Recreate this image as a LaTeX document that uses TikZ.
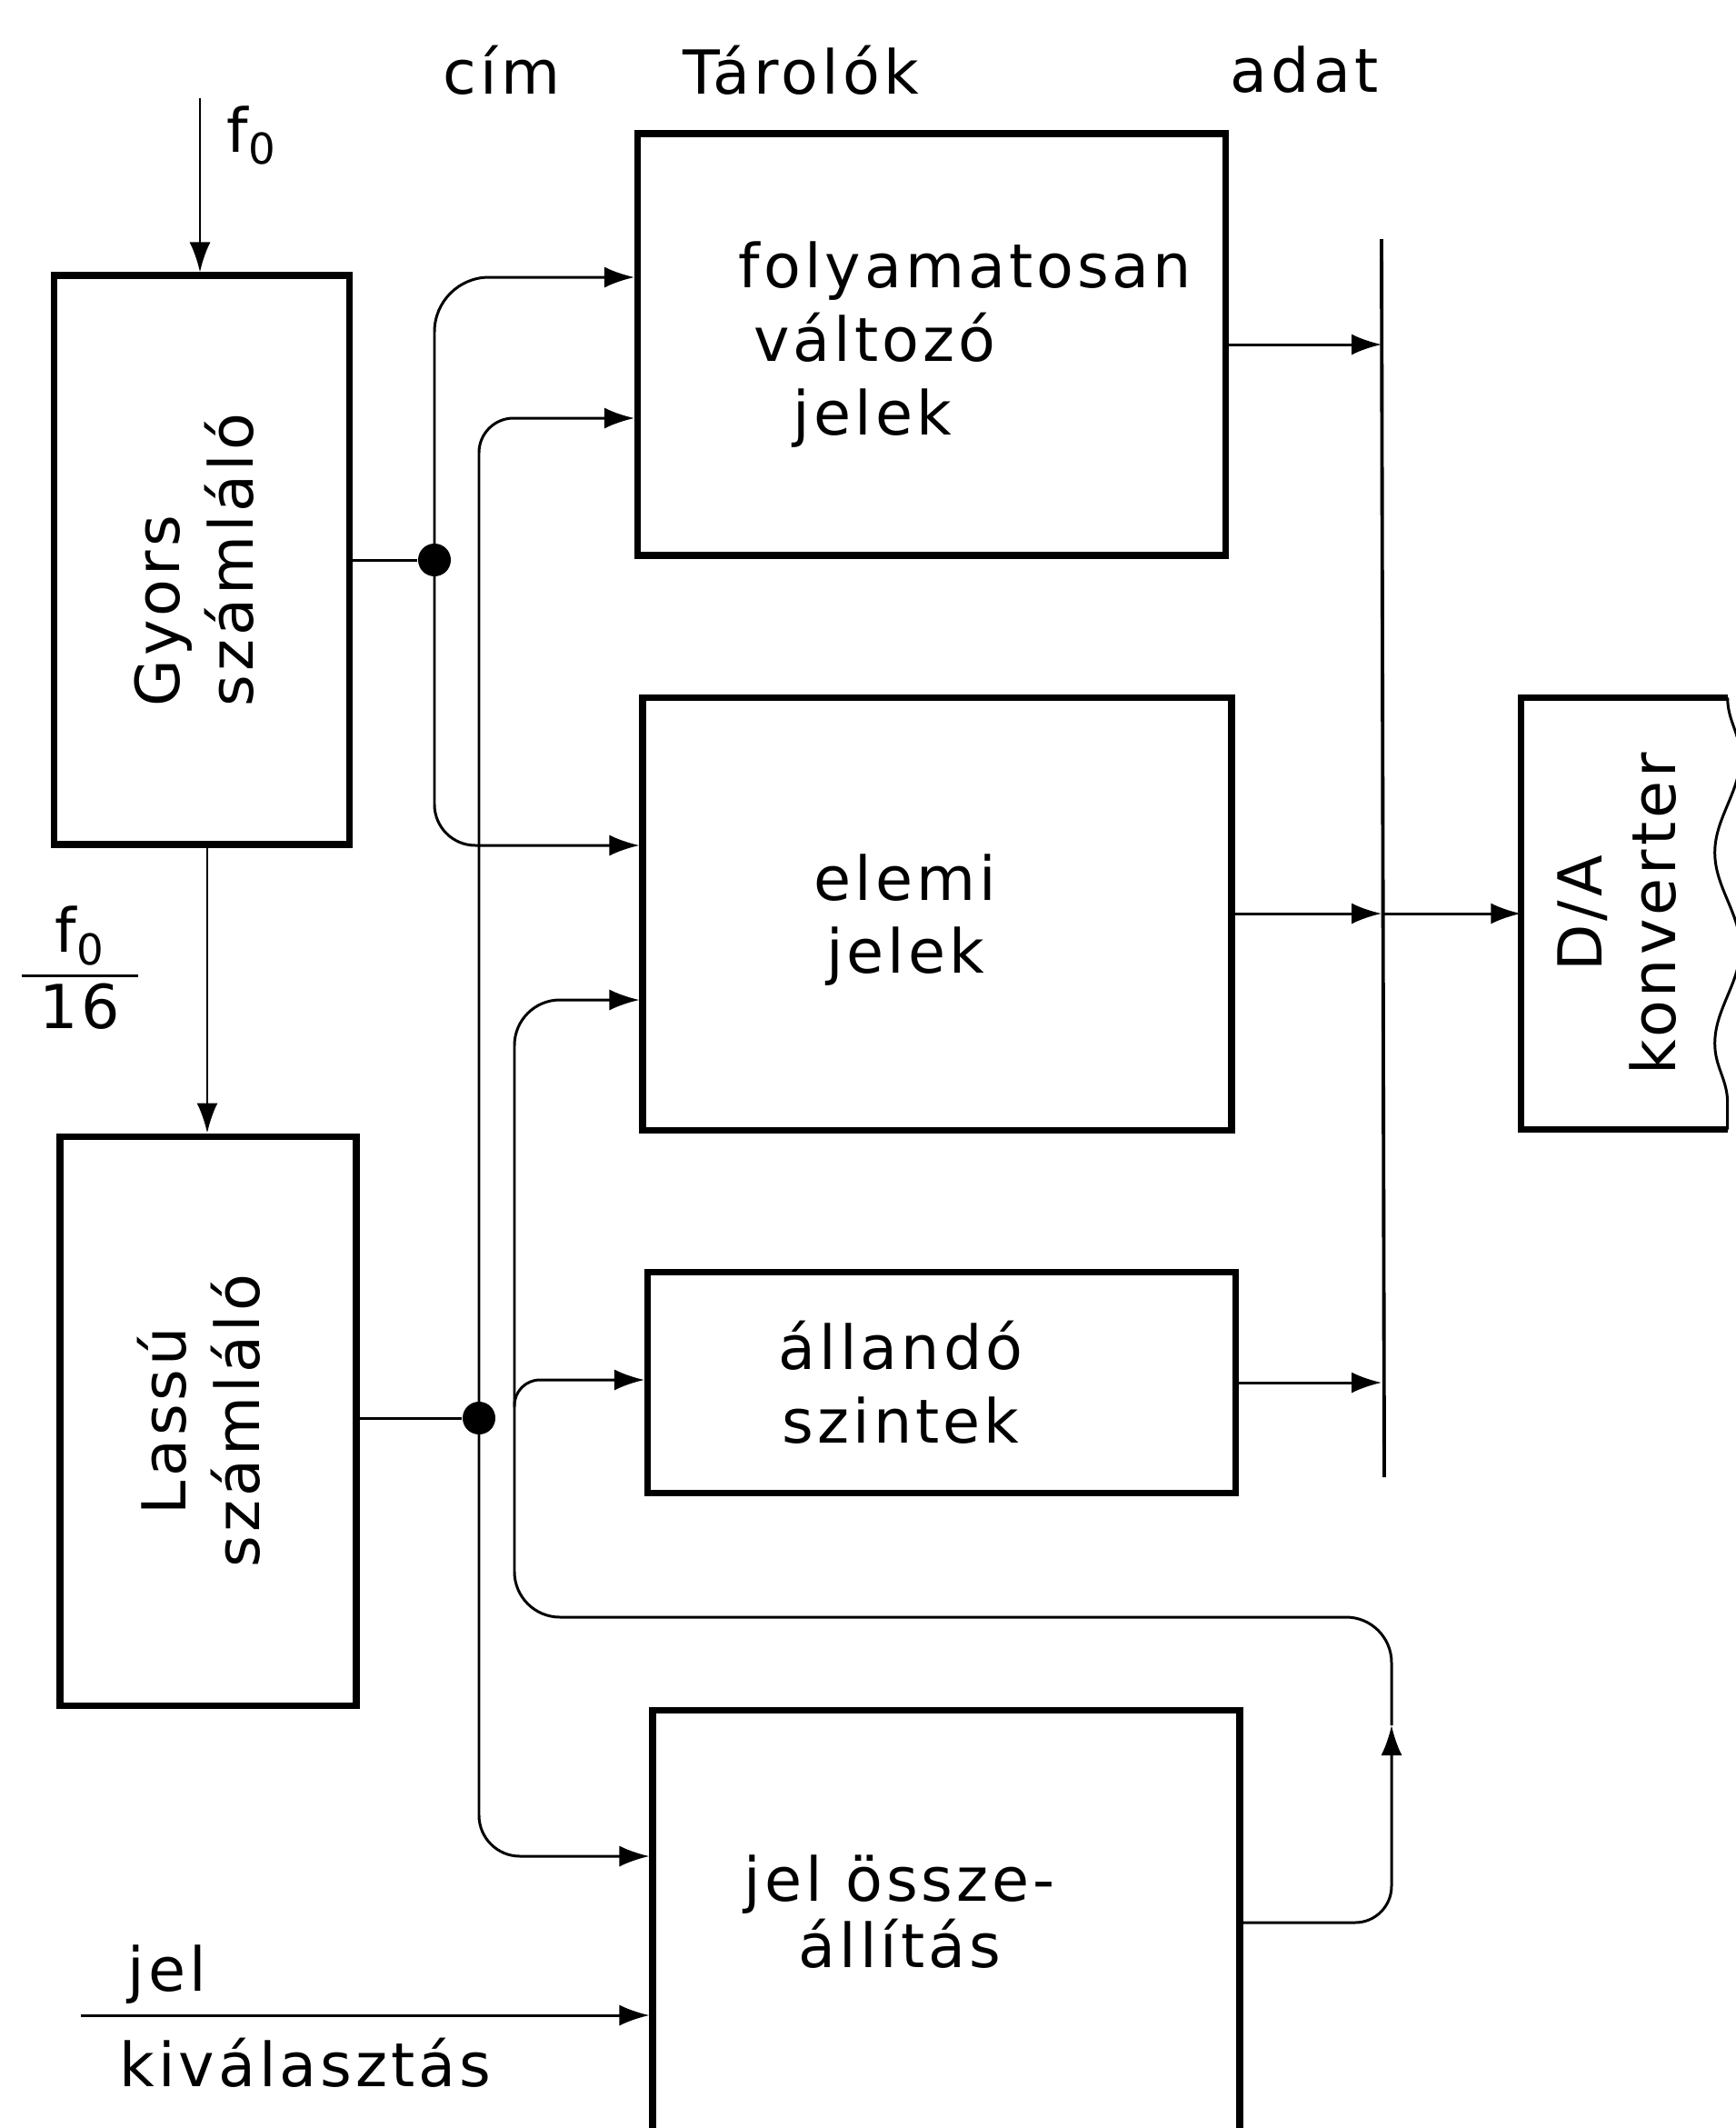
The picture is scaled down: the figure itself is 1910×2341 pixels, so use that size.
\documentclass[tikz,border=0pt]{standalone}
\usepackage{fontspec}
\setmainfont{DejaVu Sans}[LetterSpace=6]
\usepackage{graphicx}
\usepackage{tikz}
\usetikzlibrary{positioning,arrows.meta,decorations.pathmorphing,calc}
\setlength{\arrayrulewidth}{0.85pt}
\tikzset{
  blk/.style={rectangle,draw,line width=2pt,align=center,inner sep=0pt},
  txt/.style={align=center,inner sep=0pt},
  ar/.style={-{Latex[length=3.3mm,width=2.3mm]},line width=0.85pt},
  ln/.style={line width=0.85pt},
  bus/.style={line width=1.1pt},
  dot/.style={circle,fill,inner sep=0pt,minimum size=3.6mm},
  lbl/.style={inner sep=0pt},
}
\newcommand{\fnull}{f\textsubscript{0}}

\begin{document}
\begin{tikzpicture}[x=0.1mm,y=-0.1mm,font=\fontsize{19}{23}\selectfont]
  \useasboundingbox (0,0) rectangle (1910,2341);
  \clip (0,0) rectangle (1910,2341);
  % counters
  \node[blk,minimum width=32.5mm,minimum height=62.6mm] (gyors) at (222,616)
    {\rotatebox{90}{\begin{tabular}{@{}l@{}}Gyors\\számláló\end{tabular}}};
  \node[blk,minimum width=32.6mm,minimum height=62.6mm] (lassu) at (229,1563)
    {\rotatebox{90}{\begin{tabular}{@{}c@{}}Lassú\\számláló\end{tabular}}};
  % stores
  \node[blk,minimum width=64.7mm,minimum height=46.4mm] (folyam) at (1025,379) {};
  \node[txt,align=left,anchor=west] (folyamtxt) at (812,379)
    {folyamatosan\\\hspace{0.25em}változó\\\hspace{0.9em}jelek};
  \node[blk,minimum width=64.8mm,minimum height=47.6mm] (elemi) at (1031,1005) {};
  \node[txt] (elemitxt) at (996,1012) {elemi\\jelek};
  \node[blk,minimum width=64.7mm,minimum height=24.3mm] (allando) at (1036,1521) {};
  \node[txt] (allandotxt) at (991,1521) {állandó\\szintek};
  \node[blk,minimum width=64.6mm,minimum height=46.4mm] (jel) at (1041,2113) {};
  \node[txt,font=\fontsize{19}{21}\selectfont] (jeltxt) at (990,2103) {jel össze-\\állítás};
  % converter, torn right edge
  \node[inner sep=0pt,minimum width=22.6mm,minimum height=47.4mm] (da) at (1787,1005)
    {\rotatebox{90}{\begin{tabular}{@{}c@{}}D/A\\konverter\end{tabular}}};
  \draw[line width=2pt] (da.north east) -- (da.north west) -- (da.south west) -- (da.south east);
  \draw[ln,decorate,decoration={snake,segment length=21mm,amplitude=1.4mm}] (da.north east) -- (da.south east);
  % headings
  \node[lbl,anchor=base] (cim) at (552,103) {cím};
  \node[lbl,anchor=base] (tarolok) at (881,103) {Tárolók};
  \node[lbl,anchor=base] (adat) at (1435,101) {adat};
  % clock inputs
  \coordinate (f0in) at (220,108);
  \draw[ar] (f0in) -- (f0in |- gyors.north);
  \node[lbl,anchor=base west] (f0) at (249,167) {\fnull};
  \draw[ar] (gyors.south -| 228,0) -- (lassu.north -| 228,0);
  \node[lbl] (frac) at (88,1073)
    {\begin{tabular}{@{\hspace{2mm}}c@{\hspace{2mm}}}\fnull\\\hline 16\end{tabular}};
  % address lines
  \node[dot] (d1) at (478,616) {};
  \draw[ln] (gyors.east) -- (d1);
  \node[dot] (d2) at (527,1560) {};
  \draw[ln] (lassu.east |- d2) -- (d2);
  \draw[ar,rounded corners=6mm] (d1.center) |- (folyam.west |- 0,305);
  \draw[ar,rounded corners=4.5mm] (d1.center) |- (elemi.west |- 0,930);
  \draw[ar,rounded corners=3.8mm] (d2.center) |- (folyam.west |- 0,460);
  \draw[ar,rounded corners=4.5mm] (d2.center) |- (jel.west |- 0,2042);
  % composed signal back to the stores
  \coordinate (back) at (1531,1898);
  \draw[ar,rounded corners=4mm] (jel.east |- 0,2115) -| (back);
  \draw[ar,rounded corners=5mm] (back) |- (566,1779) |- (elemi.west |- 0,1100);
  \coordinate (br) at (566,1548);
  \draw[ar,rounded corners=2.8mm] (br) |- (allando.west |- 0,1518);
  % data bus
  \coordinate (bustop) at (1520,263);
  \coordinate (busbot) at (1523,1625);
  \draw[bus] (bustop) -- (busbot);
  \draw[ar] (folyam.east) -- (folyam.east -| bustop);
  \draw[ar] (elemi.east) -- (elemi.east -| bustop);
  \draw[ar] (allando.east) -- (allando.east -| bustop);
  \draw[ar] (elemi.east -| bustop) -- (da.west);
  % signal select
  \coordinate (selin) at (89,2217);
  \draw[ar] (selin) -- (selin -| jel.west);
  \node[lbl,anchor=base west] (jellbl) at (140,2190) {jel};
  \node[lbl,anchor=base west] (kivlbl) at (131,2295) {kiválasztás};
\end{tikzpicture}
\end{document}
